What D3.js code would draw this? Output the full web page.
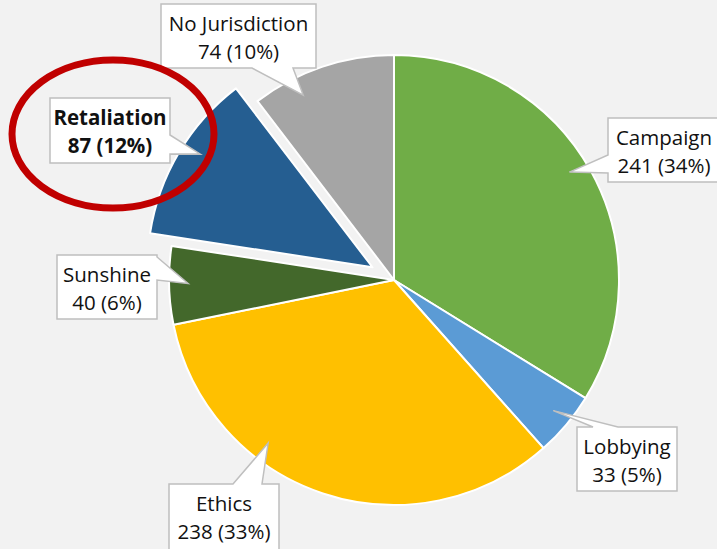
<!DOCTYPE html>
<html>
<head>
<meta charset="utf-8">
<script src="https://cdn.jsdelivr.net/npm/d3@7"></script>
<style>
  body { margin: 0; background: #f2f2f2; }
  svg { display: block; }
</style>
</head>
<body>
<div id="chart"></div>
<script>
var width = 717
var height = 549

// data
const categories = ["Campaign", "Lobbying", "Ethics", "Sunshine", "Retaliation", "No Jurisdiction"]
const counts = [241, 33, 238, 40, 87, 74]
const percents = ["34%", "5%", "33%", "6%", "12%", "10%"]
const sliceColors = ["#70ad47", "#5b9bd5", "#ffc000", "#43682b", "#255e91", "#a5a5a5"]

// callout layout (box position, side the pointer leaves from, where the tip sits in the slice)
const callouts = {
  "No Jurisdiction": {x: 161, y: 4, w: 155, h: 64, side: "bottom", b0: 91, b1: 132, frac: 0.3},
  "Retaliation": {x: 50, y: 98, w: 120, h: 65, side: "right", b0: 37, b1: 56, frac: 0.56, bold: true},
  "Campaign": {x: 608, y: 118, w: 112, h: 64, side: "left", b0: 37, b1: 55, frac: 0.48},
  "Sunshine": {x: 57, y: 255, w: 100, h: 64, side: "right", b0: 2, b1: 25, frac: 0.52},
  "Ethics": {x: 169, y: 484, w: 110, h: 70, side: "top", b0: 64, b1: 93, frac: 0.66},
  "Lobbying": {x: 577, y: 427, w: 100, h: 64, side: "top", b0: 16, b1: 41, frac: 0.46}
}

var cx = 394, cy = 280, radius = 225, explode = 25, tipR = 206

const svg = d3.select("#chart").append("svg")
  .attr("width", width)
  .attr("height", height)
  .style("background", "#f2f2f2")

const pie = d3.pie().sort(null).value(d => d)
const arcs = pie(counts)
const arc = d3.arc().innerRadius(0).outerRadius(radius)

function offsetFor(i) {
  if (categories[i] !== "Retaliation") return [0, 0]
  var a = (arcs[i].startAngle + arcs[i].endAngle) / 2
  return [Math.sin(a) * explode, -Math.cos(a) * explode]
}

const g = svg.append("g").attr("transform", `translate(${cx},${cy})`)

g.selectAll("path.slice")
  .data(arcs)
  .enter()
  .append("path")
  .attr("class", "slice")
  .attr("d", arc)
  .attr("transform", (d, i) => { var o = offsetFor(i); return `translate(${o[0]},${o[1]})` })
  .style("fill", (d, i) => sliceColors[i])
  .style("stroke", "#fff")
  .style("stroke-width", 2)
  .style("stroke-linejoin", "round")

// callout shape: rectangle with a pointer wedge on one side
function calloutPath(c, tip) {
  var x0 = c.x, y0 = c.y, x1 = c.x + c.w, y1 = c.y + c.h
  var pts = []
  pts.push([x0, y0])
  if (c.side == "top") { pts.push([x0 + c.b0, y0], tip, [x0 + c.b1, y0]) }
  pts.push([x1, y0])
  if (c.side == "right") { pts.push([x1, y0 + c.b0], tip, [x1, y0 + c.b1]) }
  pts.push([x1, y1])
  if (c.side == "bottom") { pts.push([x0 + c.b1, y1], tip, [x0 + c.b0, y1]) }
  pts.push([x0, y1])
  if (c.side == "left") { pts.push([x0, y0 + c.b1], tip, [x0, y0 + c.b0]) }
  return "M" + pts.map(p => p[0] + "," + p[1]).join("L") + "Z"
}

const labels = svg.append("g")

arcs.forEach((d, i) => {
  var c = callouts[categories[i]]
  var a = d.startAngle + (d.endAngle - d.startAngle) * c.frac
  var o = offsetFor(i)
  var tip = [cx + o[0] + Math.sin(a) * tipR, cy + o[1] - Math.cos(a) * tipR]

  labels.append("path")
    .attr("d", calloutPath(c, tip))
    .style("fill", "#fff")
    .style("stroke", "#bfbfbf")
    .style("stroke-width", 1.5)

  var t = labels.append("text")
    .attr("x", c.x + c.w / 2)
    .attr("y", c.y + 27)
    .attr("text-anchor", "middle")
    .style("font-family", "'Open Sans', sans-serif")
    .style("font-size", "20.5px")
    .style("font-weight", c.bold ? "bold" : "normal")
    .style("fill", "#111")
  t.append("tspan").attr("x", c.x + c.w / 2).text(categories[i])
  t.append("tspan").attr("x", c.x + c.w / 2).attr("dy", 28).text(counts[i] + " (" + percents[i] + ")")
})

// red highlight ring around Retaliation label
svg.append("ellipse")
  .attr("cx", 113)
  .attr("cy", 134)
  .attr("rx", 101)
  .attr("ry", 74)
  .style("fill", "none")
  .style("stroke", "#c00000")
  .style("stroke-width", 7)
</script>
</body>
</html>
